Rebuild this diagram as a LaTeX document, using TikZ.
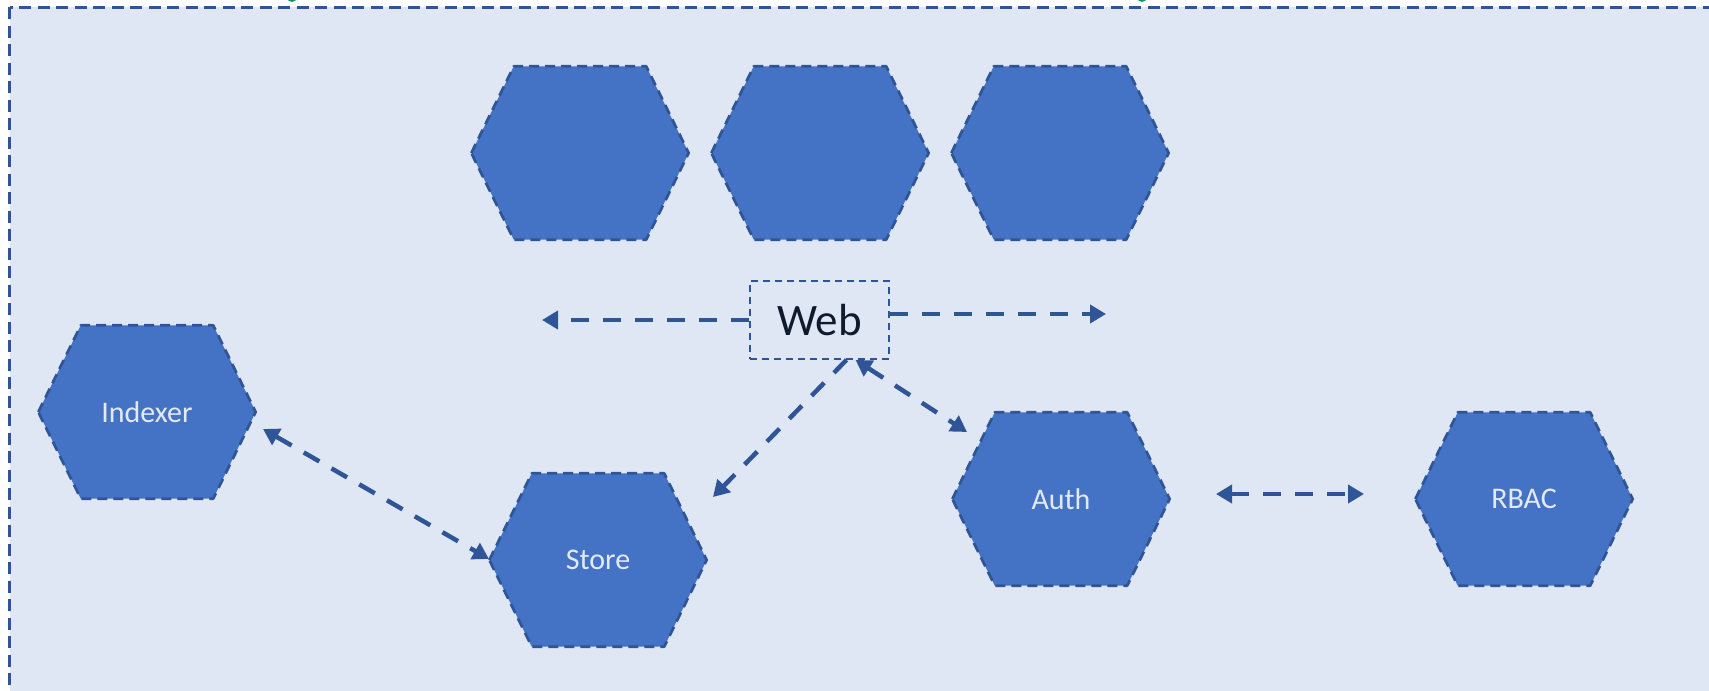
\documentclass[tikz,border=0pt]{standalone}
\usepackage{fontspec}
\setmainfont{Carlito}
\usetikzlibrary{calc,arrows.meta,backgrounds}
\definecolor{panel}{HTML}{DFE7F4}
\definecolor{hexfill}{HTML}{4472C4}
\definecolor{edge}{HTML}{2F5597}
\definecolor{labeltext}{HTML}{E4EAF5}
\definecolor{webtext}{HTML}{0F1B2D}
\definecolor{marker}{HTML}{129468}

\begin{document}
\begin{tikzpicture}[x=1pt,y=-1pt,
  hexnode/.style={inner sep=0pt, minimum width=217pt, minimum height=173pt,
    text=labeltext, font=\fontsize{30}{36}\selectfont},
  hexline/.style={fill=hexfill, draw=edge, line width=2.7pt,
    dash pattern=on 10pt off 6pt, line join=round},
  webbox/.style={draw=edge, line width=1.8pt, dash pattern=on 7pt off 5pt,
    inner sep=0pt, minimum width=139pt, minimum height=78pt,
    text=webtext, font=\fontsize{45}{54}\selectfont},
  link/.style={draw=edge, line width=4.5pt, dash pattern=on 18pt off 14pt},
  tip/.style={Triangle[length=16pt,width=18pt]},
  oneway/.style={link, -{Triangle[length=16pt,width=18pt]}},
  twoway/.style={link, {Triangle[length=16pt,width=18pt]}-{Triangle[length=16pt,width=18pt]}},
]
\useasboundingbox (0,0) rectangle (1709,691);
\clip (0,0) rectangle (1709,691);

% service nodes
\node[hexnode] (h1) at (580,153) {};
\node[hexnode] (h2) at (820,153) {};
\node[hexnode] (h3) at (1060,153) {};
\node[hexnode] (indexer) at (147,412) {Indexer};
\node[hexnode] (store) at (598,560) {Store};
\node[hexnode] (auth) at (1061,499) {Auth};
\node[hexnode] (rbac) at (1524,499) {RBAC};
\node[webbox] (web) at (819.5,320) {Web};

\begin{pgfonlayer}{background}
  % panel
  \fill[panel] (9.5,7) rectangle (1740,720);
  \draw[edge, line width=3pt, dash pattern=on 12pt off 6.5pt] (9.5,7) rectangle (1740,720);
  \fill[marker] (292,-3) circle (5);
  \fill[marker] (1142,-3) circle (5);
  % hexagon outlines
  \foreach \n in {h1,h2,h3,indexer,store,auth,rbac}{
    \draw[hexline] (\n.west) -- ($(\n.north west)+(42.5,0)$)
      -- ($(\n.north east)+(-42.5,0)$) -- (\n.east)
      -- ($(\n.south east)+(-42.5,0)$) -- ($(\n.south west)+(42.5,0)$) -- cycle;
  }
\end{pgfonlayer}

% free ends of the horizontal connectors
\coordinate (leftend) at (542,320);
\coordinate (rightend) at (1106,314);

\draw[oneway] (web.west) -- (leftend);
\draw[oneway] ($(web.east)+(0,-6)$) -- (rightend);
\draw[oneway] ($(web.south)+(27,0)$) -- ($(store.center)+(115,-63)$);
\draw[twoway] ($(web.south)+(36,0)$) -- ($(auth.center)+(-94,-67)$);
\draw[twoway] ($(indexer.center)+(116,17)$) -- ($(store.center)+(-109,-1)$);
\draw[twoway] ($(auth.center)+(155,-5)$) -- ($(rbac.center)+(-160,-5)$);
\end{tikzpicture}
\end{document}
